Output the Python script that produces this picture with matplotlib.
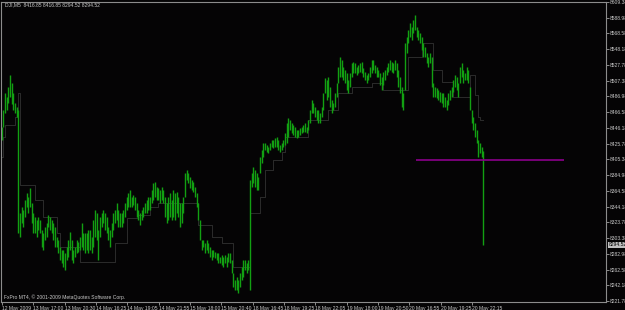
import numpy as np
import matplotlib.pyplot as plt

highs = [8447, 8469, 8491, 8486, 8499, 8515, 8504, 8491, 8479, 8473,
         8469, 8336, 8344, 8340, 8353, 8362, 8357, 8368, 8349, 8336,
         8331, 8327, 8331, 8327, 8314, 8310, 8318, 8323, 8333, 8331,
         8327, 8323, 8318, 8305, 8301, 8292, 8288, 8288, 8284, 8292,
         8301, 8311, 8301, 8288, 8292, 8301, 8298, 8305, 8323, 8310,
         8310, 8310, 8314, 8314, 8305, 8327, 8340, 8336, 8314, 8331,
         8336, 8340, 8336, 8331, 8318, 8314, 8323, 8336, 8340, 8349,
         8340, 8336, 8336, 8340, 8349, 8357, 8362, 8366, 8357, 8359,
         8357, 8349, 8340, 8336, 8340, 8344, 8349, 8353, 8357, 8357,
         8366, 8375, 8376, 8370, 8368, 8366, 8370, 8366, 8357, 8349,
         8357, 8362, 8353, 8366, 8362, 8363, 8357, 8349, 8349, 8357,
         8388, 8392, 8388, 8383, 8379, 8376, 8370, 8362, 8349, 8327,
         8301, 8301, 8297, 8301, 8297, 8292, 8288, 8288, 8285, 8284,
         8284, 8279, 8281, 8279, 8281, 8279, 8284, 8284, 8275, 8258,
         8249, 8253, 8249, 8258, 8266, 8275, 8275, 8271, 8275, 8379,
         8388, 8396, 8392, 8388, 8383, 8409, 8418, 8427, 8427, 8424,
         8422, 8427, 8431, 8431, 8433, 8434, 8431, 8424, 8427, 8431,
         8440, 8453, 8459, 8456, 8453, 8450, 8447, 8443, 8443, 8446,
         8447, 8450, 8453, 8447, 8456, 8469, 8482, 8479, 8473, 8469,
         8469, 8466, 8473, 8491, 8511, 8508, 8512, 8499, 8482, 8479,
         8491, 8504, 8525, 8538, 8534, 8525, 8521, 8517, 8508, 8517,
         8530, 8532, 8530, 8525, 8528, 8530, 8532, 8524, 8519, 8515,
         8517, 8525, 8534, 8534, 8528, 8525, 8521, 8517, 8512, 8519,
         8521, 8525, 8530, 8534, 8532, 8530, 8534, 8530, 8521, 8512,
         8499, 8491, 8556, 8564, 8573, 8582, 8577, 8586, 8593, 8577,
         8573, 8569, 8564, 8556, 8551, 8543, 8538, 8543, 8538, 8504,
         8499, 8498, 8495, 8493, 8491, 8491, 8486, 8482, 8491, 8495,
         8499, 8508, 8515, 8512, 8504, 8525, 8530, 8521, 8517, 8525,
         8521, 8499, 8469, 8460, 8453, 8443, 8431, 8427, 8422, 8416.85]
lows = [8431, 8447, 8466, 8469, 8479, 8486, 8477, 8469, 8466, 8460,
        8310, 8305, 8323, 8318, 8331, 8344, 8336, 8344, 8323, 8310,
        8310, 8305, 8314, 8310, 8292, 8288, 8301, 8305, 8318, 8314,
        8310, 8301, 8292, 8292, 8284, 8275, 8271, 8266, 8262, 8275,
        8279, 8288, 8275, 8271, 8279, 8284, 8285, 8288, 8292, 8288,
        8284, 8288, 8284, 8288, 8284, 8292, 8305, 8301, 8275, 8305,
        8318, 8323, 8314, 8310, 8301, 8292, 8305, 8314, 8323, 8327,
        8318, 8318, 8318, 8323, 8331, 8340, 8344, 8344, 8344, 8346,
        8340, 8331, 8327, 8320, 8327, 8331, 8336, 8336, 8340, 8340,
        8349, 8353, 8357, 8353, 8353, 8349, 8353, 8349, 8331, 8323,
        8327, 8331, 8327, 8331, 8327, 8336, 8331, 8318, 8323, 8336,
        8357, 8379, 8375, 8368, 8366, 8363, 8357, 8344, 8327, 8301,
        8288, 8292, 8284, 8288, 8284, 8279, 8275, 8279, 8278, 8275,
        8271, 8271, 8269, 8266, 8271, 8266, 8272, 8271, 8258, 8240,
        8236, 8236, 8232, 8240, 8249, 8253, 8262, 8258, 8262, 8236,
        8370, 8375, 8370, 8366, 8366, 8388, 8401, 8409, 8418, 8415,
        8414, 8418, 8422, 8420, 8422, 8422, 8418, 8415, 8418, 8422,
        8424, 8427, 8434, 8443, 8440, 8437, 8434, 8433, 8434, 8437,
        8440, 8441, 8441, 8440, 8443, 8453, 8466, 8466, 8460, 8456,
        8453, 8453, 8460, 8469, 8491, 8482, 8486, 8473, 8466, 8469,
        8473, 8486, 8504, 8512, 8512, 8508, 8504, 8495, 8491, 8499,
        8512, 8517, 8517, 8515, 8517, 8519, 8517, 8512, 8508, 8504,
        8508, 8512, 8517, 8521, 8517, 8512, 8512, 8502, 8495, 8502,
        8508, 8515, 8519, 8521, 8519, 8517, 8521, 8512, 8499, 8491,
        8473, 8469, 8495, 8543, 8556, 8564, 8560, 8569, 8573, 8564,
        8560, 8556, 8547, 8538, 8538, 8530, 8525, 8530, 8499, 8486,
        8486, 8485, 8482, 8480, 8479, 8473, 8473, 8469, 8476, 8482,
        8486, 8493, 8499, 8495, 8486, 8504, 8512, 8504, 8508, 8508,
        8504, 8469, 8453, 8443, 8434, 8427, 8409, 8414, 8409, 8294.52]

# dim stepped indicator line (bar where each step starts, level)
trail_bar = [0, 2, 3, 9, 11, 12, 21, 26, 34, 36, 48, 69, 76, 83, 90, 95,
             119, 127, 133, 140, 150, 156, 159, 164, 169, 171, 185, 197,
             203, 211, 223, 230, 245, 253, 260, 265, 272, 282, 285, 287, 288]
trail_level = [8409, 8434, 8450, 8460, 8491, 8372, 8353, 8331, 8310, 8292,
               8272, 8297, 8329, 8333, 8344, 8349, 8320, 8305, 8297, 8266,
               8336, 8357, 8392, 8405, 8415, 8434, 8456, 8469, 8491, 8499,
               8504, 8495, 8538, 8556, 8521, 8506, 8486, 8515, 8489, 8460, 8456]

# horizontal order line
order_level = 8404.2
order_from = 249.6
order_to = 338.4

bid = 8294.52
yticks = 8221.78 + 20.4 * np.arange(20)
xlabels = ["12 May 2009", "13 May 17:00", "13 May 20:30", "14 May 16:25",
           "14 May 19:05", "14 May 21:55", "15 May 18:00", "15 May 20:40",
           "18 May 16:45", "18 May 19:25", "18 May 22:05", "19 May 18:00",
           "19 May 20:50", "20 May 16:55", "20 May 19:25", "20 May 22:15"]
xticks = 1.2 + 18.8 * np.arange(len(xlabels))

header = "DJI,M5  8416.85 8416.85 8294.52 8294.52"
corp = "FxPro MT4, \u00a9 2001-2009 MetaQuotes Software Corp."

fnt = ['Liberation Sans', 'DejaVu Sans']
fs = 3.6
bg = '#050405'
txtc = '#c8c8c8'
framec = '#8c8c8c'

fig = plt.figure(figsize=(6.25, 3.1), dpi=100, facecolor=bg)
ax = fig.add_axes([1/625, 8/310, 605/625, 300/310], facecolor=bg)

bars = np.arange(1, len(highs) + 1)
ax.step(trail_bar + [290], trail_level + [trail_level[-1]], where='post',
        color='#2c2c2c', lw=0.7, zorder=1)
ax.vlines(bars, lows, highs, color='#12a012', lw=1.0, zorder=2)
ax.hlines(order_level, order_from, order_to, color='#8b008b', lw=1.2, zorder=3)

ax.set_xlim(0.6, 363.6)
ax.set_ylim(8220.6, 8609.4)

for s in ax.spines.values():
    s.set_color(framec)
    s.set_linewidth(0.8)

ax.yaxis.tick_right()
ax.set_yticks(yticks)
ax.set_yticklabels(['%.2f' % v for v in yticks], family=fnt)
ax.set_xticks(xticks)
ax.set_xticklabels(xlabels, family=fnt, ha='left')
ax.tick_params(axis='both', colors=framec, labelcolor=txtc, labelsize=fs,
               length=2, width=0.7, pad=0.8)

ax.text(1.004, bid, '%.2f' % bid, transform=ax.get_yaxis_transform(),
        va='center', ha='left', fontsize=fs, family=fnt, color='black',
        bbox=dict(fc='#c0c0c0', ec='none', pad=0.5), zorder=5, clip_on=False)

fig.text(5/625, 1 - 5/310, header, va='center', ha='left', fontsize=fs,
         family=fnt, color=txtc)
fig.text(4/625, 1 - 297/310, corp, va='center', ha='left', fontsize=fs,
         family=fnt, color=txtc)

fig.savefig('out.png', dpi=100, facecolor=bg)
